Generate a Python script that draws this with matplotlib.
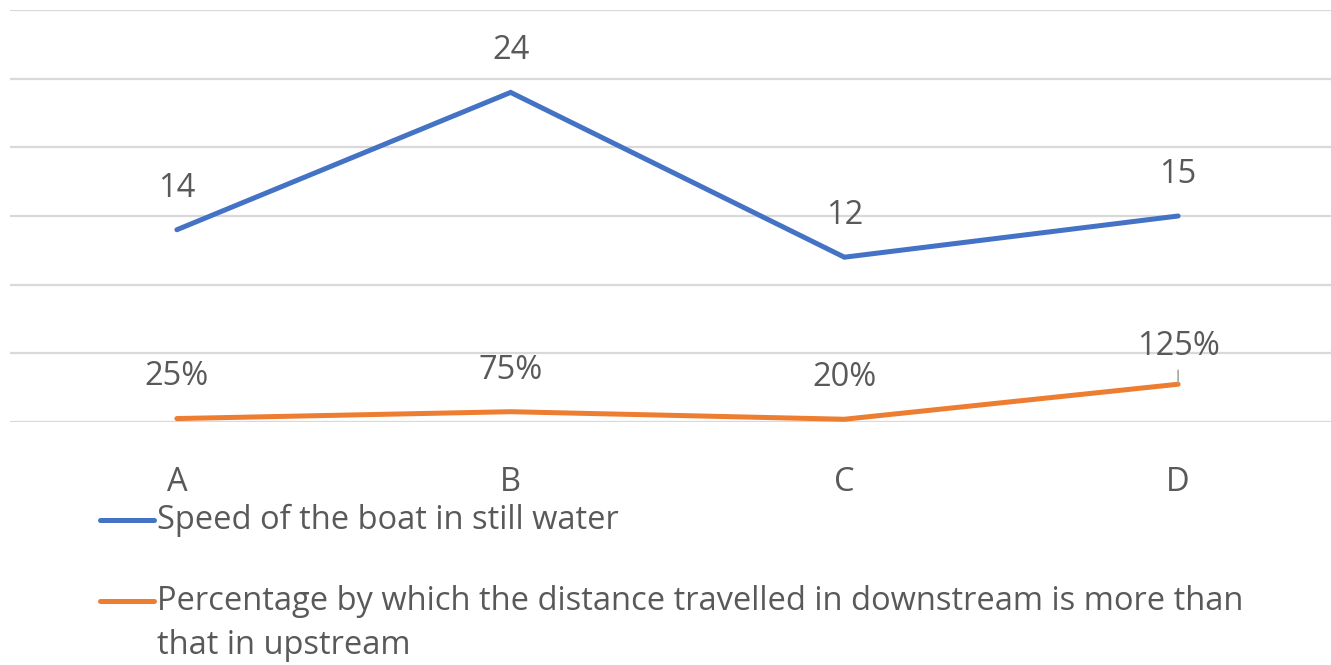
import matplotlib
matplotlib.use("Agg")
import matplotlib.pyplot as plt
from matplotlib.lines import Line2D

categories = ["A", "B", "C", "D"]
speed = [14, 24, 12, 15]
speed_labels = ["14", "24", "12", "15"]
pct = [0.25, 0.75, 0.2, 2.75]
pct_labels = ["25%", "75%", "20%", "125%"]
series_names = ["Speed of the boat in still water",
                "Percentage by which the distance travelled in downstream is more than",
                "that in upstream"]

W, H = 1331, 665
fig = plt.figure(figsize=(W / 100, H / 100), dpi=100)
plt.rcParams['font.family'] = ['Open Sans', 'DejaVu Sans']
txt = "#595959"
blue = "#4472C4"
orange = "#ED7D31"
FS = 23.5

left, right = 10, 1345
top, bottom = 10, 422
ax = fig.add_axes([left / W, 1 - bottom / H, (right - left) / W, (bottom - top) / H])
ax.set_xlim(-0.5, 3.5)
ax.set_ylim(0, 30)
ax.set_yticks(range(0, 31, 5))
ax.yaxis.grid(True, color="#D9D9D9", linewidth=1.6)
ax.set_axisbelow(True)
for s in ax.spines.values():
    s.set_visible(False)
ax.tick_params(axis="y", left=False, labelleft=False)
ax.tick_params(axis="x", bottom=False, pad=56 * 0.72, labelsize=FS, labelcolor=txt)
x = list(range(len(categories)))
ax.set_xticks(x)
ax.set_xticklabels(categories)
for lbl in ax.get_xticklabels():
    lbl.set_va("center")

ax.plot(x, speed, color=blue, linewidth=3.6, solid_capstyle="round", solid_joinstyle="miter")
ax.plot(x, pct, color=orange, linewidth=3.6, solid_capstyle="round", solid_joinstyle="miter")

for xi, v, lab in zip(x, speed, speed_labels):
    ax.annotate(lab, (xi, v), xytext=(0, 30), textcoords="offset points",
                ha="center", va="center", fontsize=FS, color=txt)
for i, (xi, v, lab) in enumerate(zip(x, pct, pct_labels)):
    if i == 3:
        ax.annotate(lab, (xi, v), xytext=(0, 27), textcoords="offset points",
                    ha="center", va="center", fontsize=FS, color=txt)
        ax.annotate("", (xi, v), xytext=(0, 10), textcoords="offset points",
                    arrowprops=dict(arrowstyle="-", color="#A6A6A6", lw=1.2, shrinkA=0, shrinkB=1))
    else:
        ax.annotate(lab, (xi, v), xytext=(0, 30), textcoords="offset points",
                    ha="center", va="center", fontsize=FS, color=txt)

# legend
for (yy, col) in [(520, blue), (601, orange)]:
    fig.add_artist(Line2D([100 / W, 154 / W], [1 - yy / H, 1 - yy / H], color=col,
                          linewidth=3.6, solid_capstyle="round", transform=fig.transFigure))
for yy, name in zip([520, 601, 645], series_names):
    fig.text(157 / W, 1 - yy / H, name, ha="left", va="center", fontsize=FS, color=txt)

fig.savefig("out.png", dpi=100)
